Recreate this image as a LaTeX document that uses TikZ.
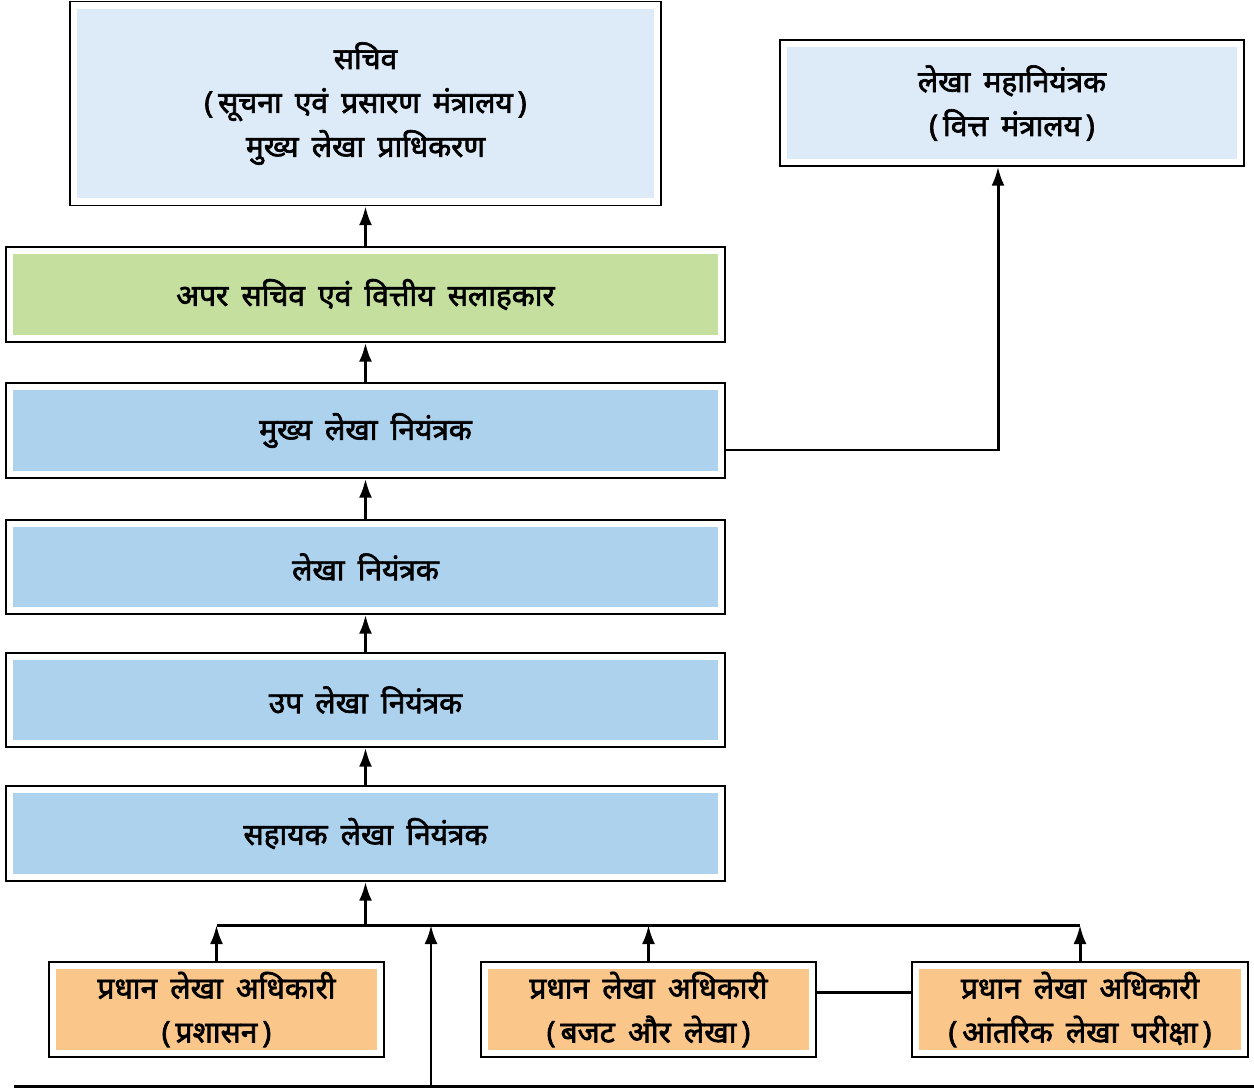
\documentclass[tikz,border=0pt]{standalone}
\usepackage{fontspec}
\newfontfamily\hindi[Script=Devanagari, WordSpace=1.7, FakeBold=2.2]{Noto Sans}
\usetikzlibrary{arrows.meta,calc}
\definecolor{paleblue}{HTML}{DDEAF7}
\definecolor{skyblue}{HTML}{ADD2EE}
\definecolor{leafgreen}{HTML}{C5DF9F}
\definecolor{peach}{HTML}{FAC68A}

\begin{document}
\begin{tikzpicture}[x=0.02cm,y=-0.02cm,
    box/.style={draw, fill=white, line width=0.8pt, inner sep=0pt, align=center,
      font=\hindi\fontsize{17}{25}\selectfont,
      path picture={\fill[#1] ([shift={(0.14cm,0.14cm)}]path picture bounding box.south west)
        rectangle ([shift={(-0.14cm,-0.14cm)}]path picture bounding box.north east);}},
    wire/.style={line width=1.7pt, line join=miter},
    link/.style={wire, -{Latex[length=0.38cm,width=0.26cm]}}]
        \useasboundingbox (0,0) rectangle (1254,1088);
        % Top boxes
        \node[box=paleblue, minimum width=11.82cm, minimum height=4.08cm] (sachiv) at (365.5,103.5)
          {सचिव\\(\,सूचना एवं प्रसारण मंत्रालय\,)\\मुख्य लेखा प्राधिकरण};
        \node[box=paleblue, minimum width=9.28cm, minimum height=2.52cm] (cga) at (1012,103)
          {लेखा महानियंत्रक\\(\,वित्त मंत्रालय\,)};
        % Chain
        \node[box=leafgreen, minimum width=14.38cm, minimum height=1.9cm] (apar) at (365.5,294.5)
          {अपर सचिव एवं वित्तीय सलाहकार};
        \node[box=skyblue, minimum width=14.38cm, minimum height=1.9cm] (cca) at (365.5,430.5)
          {मुख्य लेखा नियंत्रक};
        \node[box=skyblue, minimum width=14.38cm, minimum height=1.88cm] (ca) at (365.5,567)
          {लेखा नियंत्रक};
        \node[box=skyblue, minimum width=14.38cm, minimum height=1.88cm] (dca) at (365.5,700)
          {उप लेखा नियंत्रक};
        \node[box=skyblue, minimum width=14.38cm, minimum height=1.9cm] (aca) at (365.5,833.5)
          {सहायक लेखा नियंत्रक};
        % Bottom row
        \node[box=peach, minimum width=6.7cm, minimum height=1.9cm] (pao1) at (216.5,1009.5)
          {प्रधान लेखा अधिकारी\\(\,प्रशासन\,)};
        \node[box=peach, minimum width=6.7cm, minimum height=1.9cm] (pao2) at (648.5,1009.5)
          {प्रधान लेखा अधिकारी\\(\,बजट और लेखा\,)};
        \node[box=peach, minimum width=6.72cm, minimum height=1.9cm] (pao3) at (1080,1009.5)
          {प्रधान लेखा अधिकारी\\(\,आंतरिक लेखा परीक्षा\,)};
        \coordinate (bus) at (365.5,925);
        \coordinate (feed) at (431,1086);
        \coordinate (feedL) at (14,1086);
        \coordinate (feedR) at (1254,1086);
        \coordinate (turn) at (998,450);

        \draw[link] (apar) -- (sachiv);
        \draw[link] (cca) -- (apar);
        \draw[link] (ca) -- (cca);
        \draw[link] (dca) -- (ca);
        \draw[link] (aca) -- (dca);
        \draw[link] (bus) -- (aca);
        \draw[link] (cca.east |- turn) -- (turn) -- (turn |- cga.south);
        \draw[wire] (pao1.north |- bus) -- (pao3.north |- bus);
        \draw[link] (pao1.north) -- (pao1.north |- bus);
        \draw[link] (pao2.north) -- (pao2.north |- bus);
        \draw[link] (pao3.north) -- (pao3.north |- bus);
        \draw[wire] ([yshift=0.35cm]pao2.east) -- ([yshift=0.35cm]pao3.west);
        \draw[wire] (feedL) -- (feedR);
        \draw[link] (feed) -- (feed |- bus);
\end{tikzpicture}
\end{document}
